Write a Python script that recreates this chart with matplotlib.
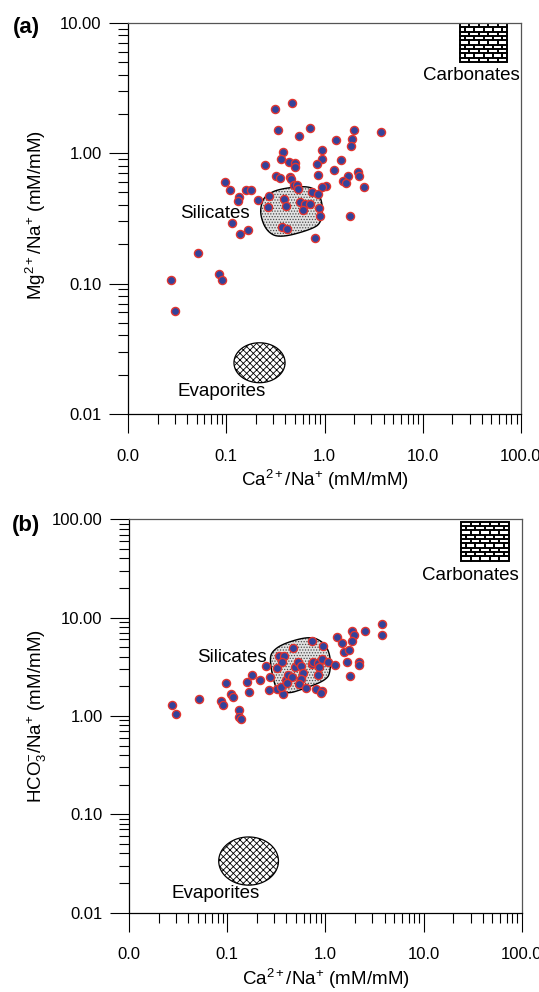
import numpy as np
import matplotlib
matplotlib.use('Agg')
import matplotlib.pyplot as plt
from matplotlib.patches import Polygon, Rectangle
from matplotlib.ticker import LogLocator, FuncFormatter, NullFormatter

# Gibbs-type end-member plot: Ca/Na vs Mg/Na (a) and Ca/Na vs HCO3/Na (b)

plt.rcParams['font.family'] = ['Liberation Sans', 'DejaVu Sans']
plt.rcParams['mathtext.fontset'] = 'custom'
plt.rcParams['mathtext.rm'] = 'Liberation Sans'
plt.rcParams['mathtext.it'] = 'Liberation Sans:italic'
plt.rcParams['hatch.linewidth'] = 0.6

# panel (a) samples
ca_na_a = [0.315, 0.463, 0.334, 0.554, 0.717, 1.98, 3.79, 1.30, 1.92, 1.86,
           0.379, 0.361, 0.436, 0.498, 0.501, 0.944, 0.937, 0.840, 1.48, 1.25,
           0.248, 0.859, 0.321, 0.352, 0.446, 0.453, 0.493, 0.528, 0.533, 2.19,
           2.23, 1.72, 1.55, 1.64, 2.54, 1.04, 0.937, 0.752, 0.865, 0.0964,
           0.109, 0.160, 0.180, 0.134, 0.132, 0.212, 0.272, 0.385, 0.268, 0.403,
           0.564, 0.638, 0.717, 0.604, 0.879, 0.905, 1.80, 0.1135, 0.1675, 0.138,
           0.366, 0.415, 0.805, 0.0516, 0.0853, 0.0895, 0.0277, 0.0298]
mg_na_a = [2.18, 2.40, 1.50, 1.36, 1.55, 1.49, 1.46, 1.26, 1.29, 1.135,
           1.02, 0.908, 0.857, 0.846, 0.780, 1.06, 0.908, 0.831, 0.883, 0.748,
           0.807, 0.678, 0.665, 0.649, 0.661, 0.634, 0.574, 0.568, 0.529, 0.710,
           0.665, 0.665, 0.615, 0.588, 0.551, 0.557, 0.548, 0.501, 0.489, 0.602,
           0.520, 0.520, 0.523, 0.461, 0.430, 0.438, 0.470, 0.448, 0.387, 0.394,
           0.421, 0.406, 0.410, 0.365, 0.378, 0.332, 0.330, 0.290, 0.255, 0.2405,
           0.272, 0.262, 0.223, 0.1706, 0.1186, 0.1072, 0.1058, 0.0621]

# panel (b) samples
ca_na_b = [0.0276, 0.0299, 0.0516, 0.0857, 0.090, 0.0964, 0.109, 0.1144, 0.132, 0.1307,
           0.138, 0.160, 0.165, 0.180, 0.214, 0.249, 0.272, 0.268, 0.318, 0.337,
           0.379, 0.361, 0.318, 0.366, 0.355, 0.396, 0.418, 0.453, 0.408, 0.463,
           0.493, 0.528, 0.560, 0.594, 0.564, 0.533, 0.633, 0.729, 0.741, 0.845,
           0.865, 0.927, 1.05, 0.840, 0.800, 0.920, 0.893, 0.724, 0.937, 1.25,
           1.30, 1.48, 1.55, 1.72, 1.64, 1.87, 1.95, 1.86, 2.52, 2.19,
           2.21, 1.79, 3.76, 3.79]
hco3_na_b = [1.285, 1.04, 1.47, 1.435, 1.29, 2.17, 1.66, 1.54, 1.14, 0.964,
             0.925, 2.20, 1.74, 2.60, 2.33, 3.21, 2.46, 1.83, 3.04, 4.05,
             4.05, 3.55, 1.90, 1.69, 1.95, 2.31, 2.60, 2.50, 2.14, 4.86,
             3.11, 3.55, 3.21, 2.74, 2.38, 2.09, 1.93, 3.36, 3.55, 3.47,
             3.11, 3.75, 3.55, 2.60, 1.90, 1.80, 1.72, 5.76, 5.16, 3.26,
             6.29, 5.54, 4.48, 4.63, 3.55, 7.34, 6.68, 5.76, 7.29, 3.55,
             3.28, 2.55, 8.59, 6.63]

# end-member fields
sil_a_x = [0.258, 0.339, 0.633, 0.833, 0.959, 0.937, 0.769, 0.352, 0.258, 0.2206, 0.2297]
sil_a_y = [0.478, 0.529, 0.561, 0.523, 0.413, 0.2985, 0.2625, 0.223, 0.2503, 0.336, 0.425]
sil_b_x = [0.283, 0.372, 0.695, 0.950, 1.111, 1.13, 1.028, 0.55, 0.418, 0.318, 0.290, 0.272]
sil_b_y = [4.49, 5.46, 6.48, 5.67, 4.32, 2.92, 2.31, 1.83, 1.69, 1.83, 2.50, 3.69]
evap_a = (0.218, 0.0247, 0.26, 0.153)   # centre x, centre y, half-width/half-height (decades)
evap_b = (0.165, 0.0334, 0.304, 0.245)
carb_a = (24, 72, 5.0, 9.9)             # x0, x1, y0, y1
carb_b = (24, 73, 38, 95)

x_label = r'Ca$^{\mathregular{2+}}$/Na$^{\mathregular{+}}$ (mM/mM)'
y_label_a = r'Mg$^{\mathregular{2+}}$/Na$^{\mathregular{+}}$ (mM/mM)'
y_label_b = r'HCO$_{\mathregular{3}}^{\mathregular{-}}$/Na$^{\mathregular{+}}$ (mM/mM)'

FACE = '#33439b'
EDGE = '#e2342f'


def smooth_closed(x, y, n=3):
    # Chaikin corner cutting in log space -> rounded outline
    p = np.column_stack([np.log10(x), np.log10(y)])
    for _ in range(n):
        q = np.roll(p, -1, axis=0)
        new = np.empty((2 * len(p), 2))
        new[0::2] = 0.75 * p + 0.25 * q
        new[1::2] = 0.25 * p + 0.75 * q
        p = new
    return 10 ** p


def draw_silicates(ax, x, y):
    pts = smooth_closed(x, y)
    ax.add_patch(Polygon(pts, closed=True, facecolor='#e2e2e2', edgecolor='#4a4a4a',
                         hatch='......', linewidth=0, zorder=1))
    ax.add_patch(Polygon(pts, closed=True, fill=False, edgecolor='black',
                         linewidth=1.0, zorder=2))


def draw_evaporites(ax, cx, cy, rx, ry):
    t = np.linspace(0, 2 * np.pi, 200)
    pts = np.column_stack([10 ** (np.log10(cx) + rx * np.cos(t)),
                           10 ** (np.log10(cy) + ry * np.sin(t))])
    ax.add_patch(Polygon(pts, closed=True, facecolor='white', edgecolor='black',
                         hatch='xxxxx', linewidth=0, zorder=1))
    ax.add_patch(Polygon(pts, closed=True, fill=False, edgecolor='black',
                         linewidth=0.9, zorder=2))


def draw_carbonates(ax, x0, x1, y0, y1, rows=9, cols=5):
    ax.add_patch(Rectangle((x0, y0), x1 - x0, y1 - y0, facecolor='white',
                           edgecolor='black', linewidth=1.4, zorder=1))
    lx0, lx1 = np.log10(x0), np.log10(x1)
    ly = np.linspace(np.log10(y0), np.log10(y1), rows + 1)
    for i in range(1, rows):
        ax.plot([x0, x1], [10 ** ly[i]] * 2, color='black', lw=1.4, zorder=2)
    step = (lx1 - lx0) / cols
    for i in range(rows):
        off = 0.5 if i % 2 else 0.0
        for j in range(cols + 1):
            lx = lx0 + (j + off) * step
            if lx0 < lx < lx1:
                ax.plot([10 ** lx] * 2, [10 ** ly[i], 10 ** ly[i + 1]],
                        color='black', lw=1.4, zorder=2)


def style_axes(ax, ymin, ymax):
    ax.set_xscale('log')
    ax.set_yscale('log')
    ax.set_xlim(0.01, 100)
    ax.set_ylim(ymin, ymax)
    for axis in (ax.xaxis, ax.yaxis):
        axis.set_major_locator(LogLocator(base=10, numticks=12))
        axis.set_minor_locator(LogLocator(base=10, subs=np.arange(2, 10), numticks=12))
        axis.set_minor_formatter(NullFormatter())
    ax.xaxis.set_major_formatter(FuncFormatter(lambda v, p: f'{v:.1f}'))
    ax.yaxis.set_major_formatter(FuncFormatter(lambda v, p: f'{v:.2f}'))
    ax.tick_params(which='major', direction='out', length=14, width=0.8,
                   labelsize=12, top=False, right=False)
    ax.tick_params(which='minor', direction='out', length=7, width=0.8,
                   top=False, right=False)
    ax.tick_params(axis='x', which='major', pad=11)
    ax.tick_params(axis='y', which='major', pad=5)
    for s in ('left', 'bottom'):
        ax.spines[s].set_linewidth(0.9)
    for s in ('top', 'right'):
        ax.spines[s].set_color('#555555')
        ax.spines[s].set_linewidth(0.9)
    ax.text(0.5, -0.137, x_label, transform=ax.transAxes, ha='center', va='top',
            fontsize=13.5)


fig = plt.figure(figsize=(5.39, 9.92), dpi=100)
ax_a = fig.add_axes([0.2375, 0.5827, 0.7291, 0.3945])
ax_b = fig.add_axes([0.2393, 0.0801, 0.7291, 0.3964])

# panel (a)
style_axes(ax_a, 0.01, 10)
draw_silicates(ax_a, sil_a_x, sil_a_y)
draw_evaporites(ax_a, *evap_a)
draw_carbonates(ax_a, *carb_a)
ax_a.scatter(ca_na_a, mg_na_a, s=34, c=FACE, edgecolors=EDGE, linewidths=1.0, zorder=3)
ax_a.text(0.31, 0.501, 'Silicates', transform=ax_a.transAxes, ha='right', va='baseline', fontsize=13.5)
ax_a.text(0.125, 0.046, 'Evaporites', transform=ax_a.transAxes, ha='left', va='baseline', fontsize=13.5)
ax_a.text(0.997, 0.854, 'Carbonates', transform=ax_a.transAxes, ha='right', va='baseline', fontsize=13.5)
ax_a.text(-0.234, 0.508, y_label_a, transform=ax_a.transAxes, rotation=90,
          ha='center', va='center', fontsize=13.5)

# panel (b)
style_axes(ax_b, 0.01, 100)
draw_silicates(ax_b, sil_b_x, sil_b_y)
draw_evaporites(ax_b, *evap_b)
draw_carbonates(ax_b, *carb_b)
ax_b.scatter(ca_na_b, hco3_na_b, s=34, c=FACE, edgecolors=EDGE, linewidths=1.0, zorder=3)
ax_b.text(0.351, 0.637, 'Silicates', transform=ax_b.transAxes, ha='right', va='baseline', fontsize=13.5)
ax_b.text(0.107, 0.037, 'Evaporites', transform=ax_b.transAxes, ha='left', va='baseline', fontsize=13.5)
ax_b.text(0.992, 0.846, 'Carbonates', transform=ax_b.transAxes, ha='right', va='baseline', fontsize=13.5)
ax_b.text(-0.234, 0.5, y_label_b, transform=ax_b.transAxes, rotation=90,
          ha='center', va='center', fontsize=13.5)

fig.text(13 / 539, 1 - 28 / 992, '(a)', fontsize=16, fontweight='bold', va='center', ha='left')
fig.text(12 / 539, 1 - 526 / 992, '(b)', fontsize=16, fontweight='bold', va='center', ha='left')

fig.savefig('out.png', dpi=100)
